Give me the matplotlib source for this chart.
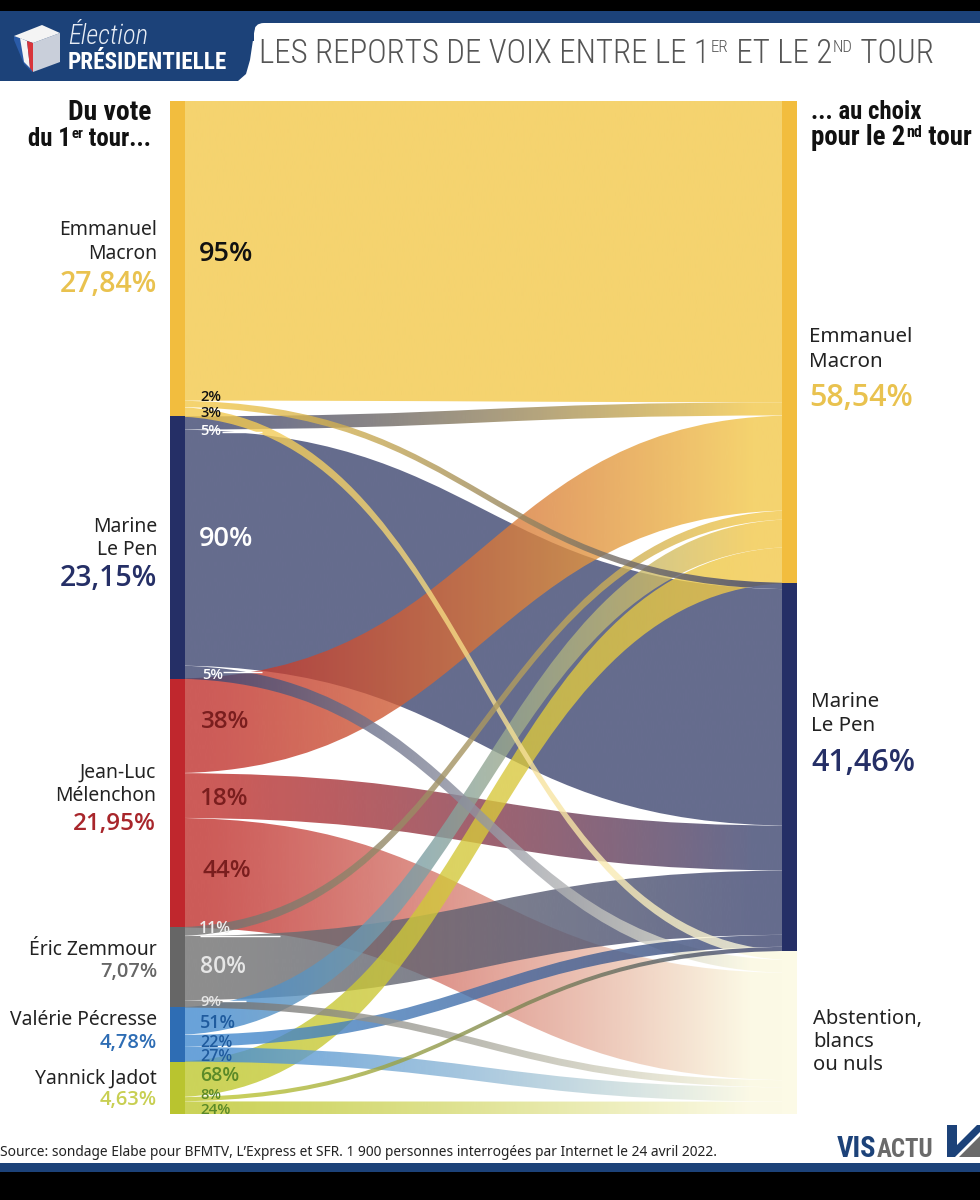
import numpy as np
import matplotlib
matplotlib.use("Agg")
import matplotlib.pyplot as plt
from matplotlib.colors import to_rgb
from matplotlib.path import Path
from matplotlib.patches import PathPatch, Polygon, Rectangle, FancyBboxPatch

# ---------- data ----------
left_names = ["Emmanuel\nMacron", "Marine\nLe Pen", "Jean-Luc\nMélenchon", "Éric Zemmour", "Valérie Pécresse", "Yannick Jadot"]
left_shares = [27.84, 23.15, 21.95, 7.07, 4.78, 4.63]
left_share_labels = ["27,84%", "23,15%", "21,95%", "7,07%", "4,78%", "4,63%"]
right_names = ["Emmanuel\nMacron", "Marine\nLe Pen", "Abstention,\nblancs\nou nuls"]
right_share_labels = ["58,54%", "41,46%", ""]
right_heights = [42.54, 32.48, 14.39]   # drawn height of each right node (1st-round points)
to_macron = [95, 5, 38, 11, 51, 68]
to_lepen = [2, 90, 18, 80, 22, 8]
to_abst = [3, 5, 44, 9, 27, 24]

# ---------- styles ----------
LEFT_BAR = ["#F2BD3E", "#252F66", "#C0272D", "#666666", "#2E6DB4", "#B9C42F"]
LEFT_FLOW = ["#F5D36F", "#666C8E", "#CD5B58", "#8E8E8E", "#6AA3DA", "#CCD35A"]
RIGHT_BAR = ["#F2BD3E", "#252F66", "#FCFAE6"]
RIGHT_FLOW = ["#F5D36F", "#666C8E", "#FCFAE6"]
SHARE_COL = ["#E9C24F", "#252F66", "#A8262B", "#666666", "#2E6DB4", "#C8CF52"]
ALPHA = 0.8
TOP, BOTTOM = 101.0, 1114.0
XL0, XL1, XR0, XR1 = 170, 185, 782, 797
NARROW = ["Roboto Condensed", "Roboto", "DejaVu Sans"]
BODY = ["Noto Sans", "DejaVu Sans"]
STRONG = ["Open Sans", "DejaVu Sans"]

fig = plt.figure(figsize=(9.8, 12), dpi=100, facecolor="white")
ax = fig.add_axes([0, 0, 1, 1])
ax.axis("off")
ax.set_xlim(0, 980)
ax.set_ylim(1200, 0)
renderer = fig.canvas.get_renderer()

flows = np.array([to_macron, to_lepen, to_abst], dtype=float).T  # rows: left, cols: right
scale = (BOTTOM - TOP) / sum(left_shares)


def src(hexcol):
    """Colour which, at ALPHA over white, shows as hexcol."""
    c = np.array(to_rgb(hexcol))
    return np.clip((c - (1 - ALPHA)) / ALPHA, 0, 1)


# stacked positions
amount = flows / 100 * np.array(left_shares)[:, None]
left_y = np.zeros((6, 4))
pos = TOP
for i in range(6):
    left_y[i, 0] = pos
    for j in range(3):
        left_y[i, j + 1] = left_y[i, j] + amount[i, j] * scale
    pos = left_y[i, 3]
right_tops = TOP + np.concatenate([[0], np.cumsum(right_heights)]) * scale
right_tops[-1] = BOTTOM
right_y = np.zeros((7, 3))
for j in range(3):
    k = (right_tops[j + 1] - right_tops[j]) / amount[:, j].sum()
    right_y[0, j] = right_tops[j]
    for i in range(6):
        right_y[i + 1, j] = right_y[i, j] + amount[i, j] * k


def band_path(x0, x1, a0, a1, b0, b1):
    xm = (x0 + x1) / 2
    verts = [(x0, a0), (xm, a0), (xm, b0), (x1, b0), (x1, b1), (xm, b1), (xm, a1), (x0, a1), (x0, a0)]
    codes = [Path.MOVETO, Path.CURVE4, Path.CURVE4, Path.CURVE4, Path.LINETO,
             Path.CURVE4, Path.CURVE4, Path.CURVE4, Path.CLOSEPOLY]
    return Path(verts, codes)


# biggest bands underneath, thin bands on top
order = np.argsort(-amount.ravel())
for rank, idx in enumerate(order):
    i, j = np.unravel_index(idx, amount.shape)
    c0, c1 = src(LEFT_FLOW[i]), src(RIGHT_FLOW[j])
    t = np.clip((np.linspace(XL0, XR1, 300) - 200) / (XR0 - 30 - 200), 0, 1)[:, None] ** 1.2
    rgb = c0 * (1 - t) + c1 * t
    rgba = np.concatenate([rgb, np.full_like(t, ALPHA)], axis=1)[None, :, :]
    if i == 0 and j == 0:
        rgba[..., :3] = to_rgb(LEFT_FLOW[0])
        rgba[..., 3] = 1.0
    path = band_path(XL0, XR1, left_y[i, j], left_y[i, j + 1], right_y[i, j], right_y[i + 1, j])
    patch = PathPatch(path, transform=ax.transData, fc="none", ec="none")
    ax.add_patch(patch)
    im = ax.imshow(rgba, extent=(XL0, XR1, BOTTOM + 2, TOP - 2), aspect="auto",
                   interpolation="bilinear", zorder=2 + rank * 0.05)
    im.set_clip_path(patch)

# node bars
for i in range(6):
    ax.add_patch(Rectangle((XL0, left_y[i, 0]), XL1 - XL0, left_y[i, 3] - left_y[i, 0], fc=LEFT_BAR[i], ec="none", zorder=4))
for j in range(3):
    ax.add_patch(Rectangle((XR0, right_tops[j]), XR1 - XR0, right_tops[j + 1] - right_tops[j], fc=RIGHT_BAR[j], ec="none", zorder=4))

# white leader lines next to small labels
for x0, x1, y in [(222, 262, 432), (223, 262, 672), (200, 280, 936), (222, 246, 1001)]:
    ax.plot([x0, x1], [y, y], color="white", lw=1, zorder=5, solid_capstyle="butt")


def label(x, y, s, size, color="#222222", ha="left", weight="normal", family=BODY, zorder=6):
    return ax.text(x, y + 2, s, fontsize=size, color=color, ha=ha, va="center", fontweight=weight,
                   family=family, zorder=zorder)


def runs(x, y, parts, color, weight="normal", family=NARROW, right=None, width=None):
    """Place consecutive text runs on a baseline; parts = (text, size, rise). Sizes are fitted to width."""
    for attempt in range(2):
        items = []
        cur = 0
        for s, size, rise in parts:
            t = ax.text(cur, y - rise, s, fontsize=size, color=color, ha="left", va="baseline",
                        fontweight=weight, family=family, zorder=6)
            cur = t.get_window_extent(renderer).x1 + 0.5
            items.append(t)
        if attempt == 0 and width is not None:
            f = width / cur
            parts = [(s, size * f, rise) for s, size, rise in parts]
            for t in items:
                t.remove()
        else:
            break
    off = x if right is None else right - cur
    for t in items:
        px, py = t.get_position()
        t.set_position((px + off, py))


# flow percentages
pct = [
    (199, 252, "95%", 19.5, "#111111"), (200, 395, "2%", 10.5, "#111111"), (200, 411, "3%", 10.5, "#111111"),
    (200, 429, "5%", 10.5, "#FFFFFF"), (199, 537, "90%", 19.5, "#FFFFFF"), (202, 673, "5%", 10.5, "#FFFFFF"),
    (201, 720, "38%", 17.5, "#7A1E1E"), (199, 797, "18%", 17.5, "#7A1E1E"), (202, 869, "44%", 17.5, "#7A1E1E"),
    (199, 927, "11%", 11.5, "#EEEEEE"), (200, 965, "80%", 16.5, "#E6E6E6"), (200, 1000, "9%", 10.5, "#E6E6E6"),
    (200, 1021, "51%", 13, "#1F5B9E"), (200, 1041, "22%", 11.5, "#1F5B9E"), (200, 1055, "27%", 11.5, "#1F5B9E"),
    (200, 1074, "68%", 14, "#5B8A28"), (200, 1093, "8%", 10.5, "#5B8A28"), (200, 1108, "24%", 11, "#5B8A28"),
]
for x, y, s, size, col in pct:
    label(x, y, s, size, col, weight=600, family=STRONG)

# left node labels
left_lab = [(157, [228, 252], 283, 20.5), (157, [525, 548], 576, 20.5), (156, [771, 794], 822, 17.5),
            (157, [948], 970, 14.5), (157, [1018], 1041, 14.5), (157, [1077], 1098, 14.5)]
for i, (x, ys, yv, sz) in enumerate(left_lab):
    for y, line in zip(ys, left_names[i].split("\n")):
        label(x, y, line, 13.9, "#222222", ha="right")
    label(x, yv, left_share_labels[i], sz, SHARE_COL[i], ha="right", weight=600, family=STRONG)

# right node labels
right_lab = [(809, [335, 360], 396), (811, [700, 724], 761), (813, [1017, 1040, 1063], None)]
for j, (x, ys, yv) in enumerate(right_lab):
    for y, line in zip(ys, right_names[j].split("\n")):
        label(x, y, line, 14.8 if j < 2 else 14.5, "#222222")
    if yv:
        label(x, yv, right_share_labels[j], 22, SHARE_COL[j], weight=600, family=STRONG)

# column headers
runs(0, 120, [("Du vote", 16, 0)], "#111111", weight="bold", right=152, width=84)
runs(0, 146, [("du 1", 16, 0), ("er", 9.5, 8), (" tour...", 16, 0)], "#111111", weight="bold", right=152, width=125)
runs(811, 119, [("... au choix", 16, 0)], "#111111", weight="bold", width=111)
runs(811, 145, [("pour le 2", 16, 0), ("nd", 9.5, 8), (" tour", 16, 0)], "#111111", weight="bold", width=162)

# header band
ax.add_patch(Rectangle((0, 0), 980, 11, fc="black", ec="none", zorder=8))
ax.add_patch(Rectangle((0, 11), 980, 30, fc="#1C4279", ec="none", zorder=1))
ax.add_patch(FancyBboxPatch((262, 31), 800, 200, boxstyle="round,pad=8,rounding_size=10", fc="white", ec="none", zorder=1.2))
ax.add_patch(Polygon([(0, 20), (256, 20), (250, 60), (246, 74), (238, 81), (0, 81)], fc="#1C4279", ec="none", zorder=1.5))
# ballot box emblem
ax.add_patch(Polygon([(14, 36), (32, 43), (32, 72), (24, 64), (14, 40)], fc="#2A5BA8", ec="none", zorder=2))
ax.add_patch(Polygon([(20, 38), (27, 41), (30, 68), (24, 62)], fc="#F4F4F4", ec="none", zorder=2.1))
ax.add_patch(Polygon([(27, 41), (33, 43), (33, 72), (30, 68)], fc="#D8343A", ec="none", zorder=2.1))
ax.add_patch(Polygon([(33, 43), (60, 33), (60, 62), (33, 72)], fc="#C9CFDA", ec="none", zorder=2))
ax.add_patch(Polygon([(14, 36), (42, 25), (60, 33), (33, 43)], fc="#F4F4F4", ec="none", zorder=2))

runs(68, 44, [("Élection", 18, 0)], "#E8EDF5", family=["Roboto Condensed"], width=85)
for t in ax.texts[-1:]:
    t.set_fontstyle("italic")
    t.set_fontweight("light")
runs(68, 69, [("PRÉSIDENTIELLE", 18, 0)], "white", weight="bold", width=159)

runs(259, 63, [("LES REPORTS DE VOIX ENTRE LE 1", 22.5, 0), ("ER", 11.5, 11), (" ET LE 2", 22.5, 0),
               ("ND", 11.5, 11), (" TOUR", 22.5, 0)], "#555555", weight="light", width=675)

# footer
ax.text(0, 1153, "Source: sondage Elabe pour BFMTV, L’Express et SFR. 1 900 personnes interrogées par Internet le 24 avril 2022.",
        fontsize=9.9, color="#222222", family=BODY, va="center", zorder=6)
ax.add_patch(Rectangle((0, 1163), 980, 9, fc="#1C4279", ec="none", zorder=8))
ax.add_patch(Rectangle((0, 1172), 980, 28, fc="black", ec="none", zorder=8))
runs(837, 1157, [("VIS", 30, 0)], "#1C4279", weight="bold", width=40)
runs(877, 1157, [("ACTU", 30, 0)], "#6A6A6A", weight="bold", width=57)
ax.add_patch(Polygon([(947, 1125), (957, 1125), (957, 1145), (977, 1125), (980, 1125), (980, 1132), (955, 1157), (947, 1157)], fc="#1C4279", ec="none", zorder=6))
ax.add_patch(Polygon([(980, 1136), (980, 1157), (959, 1157)], fc="#6A6A6A", ec="none", zorder=6))

ax.set_xlim(0, 980)
ax.set_ylim(1200, 0)
fig.savefig("out.png", dpi=100, facecolor="white")
